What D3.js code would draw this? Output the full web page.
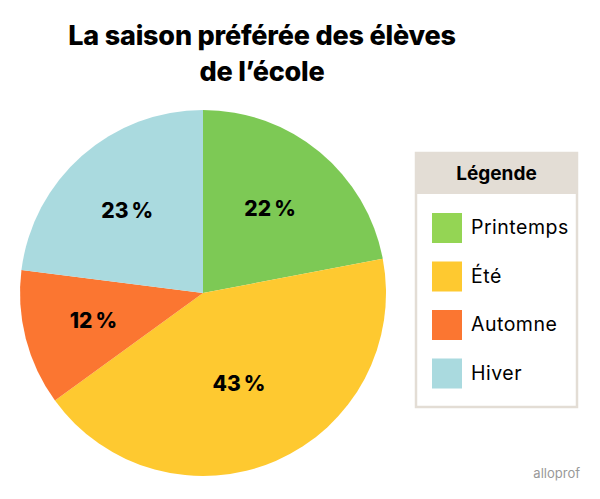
<!DOCTYPE html>
<html>
<head>
<meta charset="utf-8">
<script src="https://cdn.jsdelivr.net/npm/d3@7/dist/d3.min.js"></script>
<style>
  body { margin: 0; background: #fff; }
  svg { display: block; font-family: "Inter", "Open Sans", sans-serif; }
</style>
</head>
<body>
<div id="chart"></div>
<script>
var seasons = ["Printemps", "Été", "Automne", "Hiver"];
var percents = [22, 43, 12, 23];
var colors = ["#7dc955", "#fec930", "#fb7631", "#aadadf"];
var titleLines = ["La saison préférée des élèves", "de l’école"];

var width = 600, height = 499;
var cx = 203, cy = 293, radius = 183;

var svg = d3.select("#chart").append("svg")
  .attr("width", width)
  .attr("height", height);

/* Title */
svg.append("g").selectAll("text")
  .data(titleLines)
  .enter().append("text")
  .attr("x", 262)
  .attr("y", (d, i) => 45 + i * 36)
  .attr("text-anchor", "middle")
  .attr("font-size", "27px")
  .attr("font-weight", "800")
  .attr("letter-spacing", "-0.2px")
  .attr("fill", "#000")
  .text(d => d);

/* Pie */
var data = seasons.map((s, i) => ({ name: s, value: percents[i], color: colors[i] }));
var pie = d3.pie().value(d => d.value).sort(null);
var arc = d3.arc().innerRadius(0).outerRadius(radius);
var labelArc = d3.arc().innerRadius(110).outerRadius(110);
var bigLabelArc = d3.arc().innerRadius(98).outerRadius(98);

var g = svg.append("g").attr("transform", `translate(${cx}, ${cy})`);
var arcs = pie(data);

g.selectAll("path")
  .data(arcs)
  .enter().append("path")
  .attr("d", arc)
  .attr("fill", d => d.data.color);

g.selectAll(".pct")
  .data(arcs)
  .enter().append("text")
  .attr("class", "pct")
  .attr("transform", d => {
    var c = d.data.value > 40 ? bigLabelArc.centroid(d) : labelArc.centroid(d);
    return `translate(${c[0] - 3}, ${c[1]})`;
  })
  .attr("text-anchor", "middle")
  .attr("dy", "0.36em")
  .attr("font-size", "21px")
  .attr("font-weight", "800")
  .attr("fill", "#000")
  .text(d => d.data.value + "\u202F%");

/* Legend */
var lx = 416, ly = 153, lw = 161, lh = 254, headH = 41;
var legend = svg.append("g");
legend.append("rect")
  .attr("x", lx).attr("y", ly)
  .attr("width", lw).attr("height", lh)
  .attr("fill", "#fff")
  .attr("stroke", "#e3ddd5")
  .attr("stroke-width", 2.5);
legend.append("rect")
  .attr("x", lx).attr("y", ly)
  .attr("width", lw).attr("height", headH)
  .attr("fill", "#e3ddd5");
legend.append("text")
  .attr("x", lx + lw / 2)
  .attr("y", ly + 27)
  .attr("text-anchor", "middle")
  .attr("font-size", "19px")
  .attr("font-weight", "700")
  .attr("fill", "#000")
  .text("Légende");

var items = legend.selectAll(".item")
  .data(data)
  .enter().append("g")
  .attr("class", "item")
  .attr("transform", (d, i) => `translate(432, ${213 + i * 48.5})`);
items.append("rect")
  .attr("width", 30).attr("height", 30)
  .attr("fill", (d, i) => i === 0 ? "#94d554" : d.color);
items.append("text")
  .attr("x", 39)
  .attr("y", 21)
  .attr("font-size", "19.5px")
  .attr("letter-spacing", "0.5px")
  .attr("fill", "#000")
  .text(d => d.name);

/* Watermark */
svg.append("text")
  .attr("x", 580)
  .attr("y", 478)
  .attr("text-anchor", "end")
  .attr("font-size", "13px")
  .attr("fill", "#999")
  .text("alloprof");
</script>
</body>
</html>
